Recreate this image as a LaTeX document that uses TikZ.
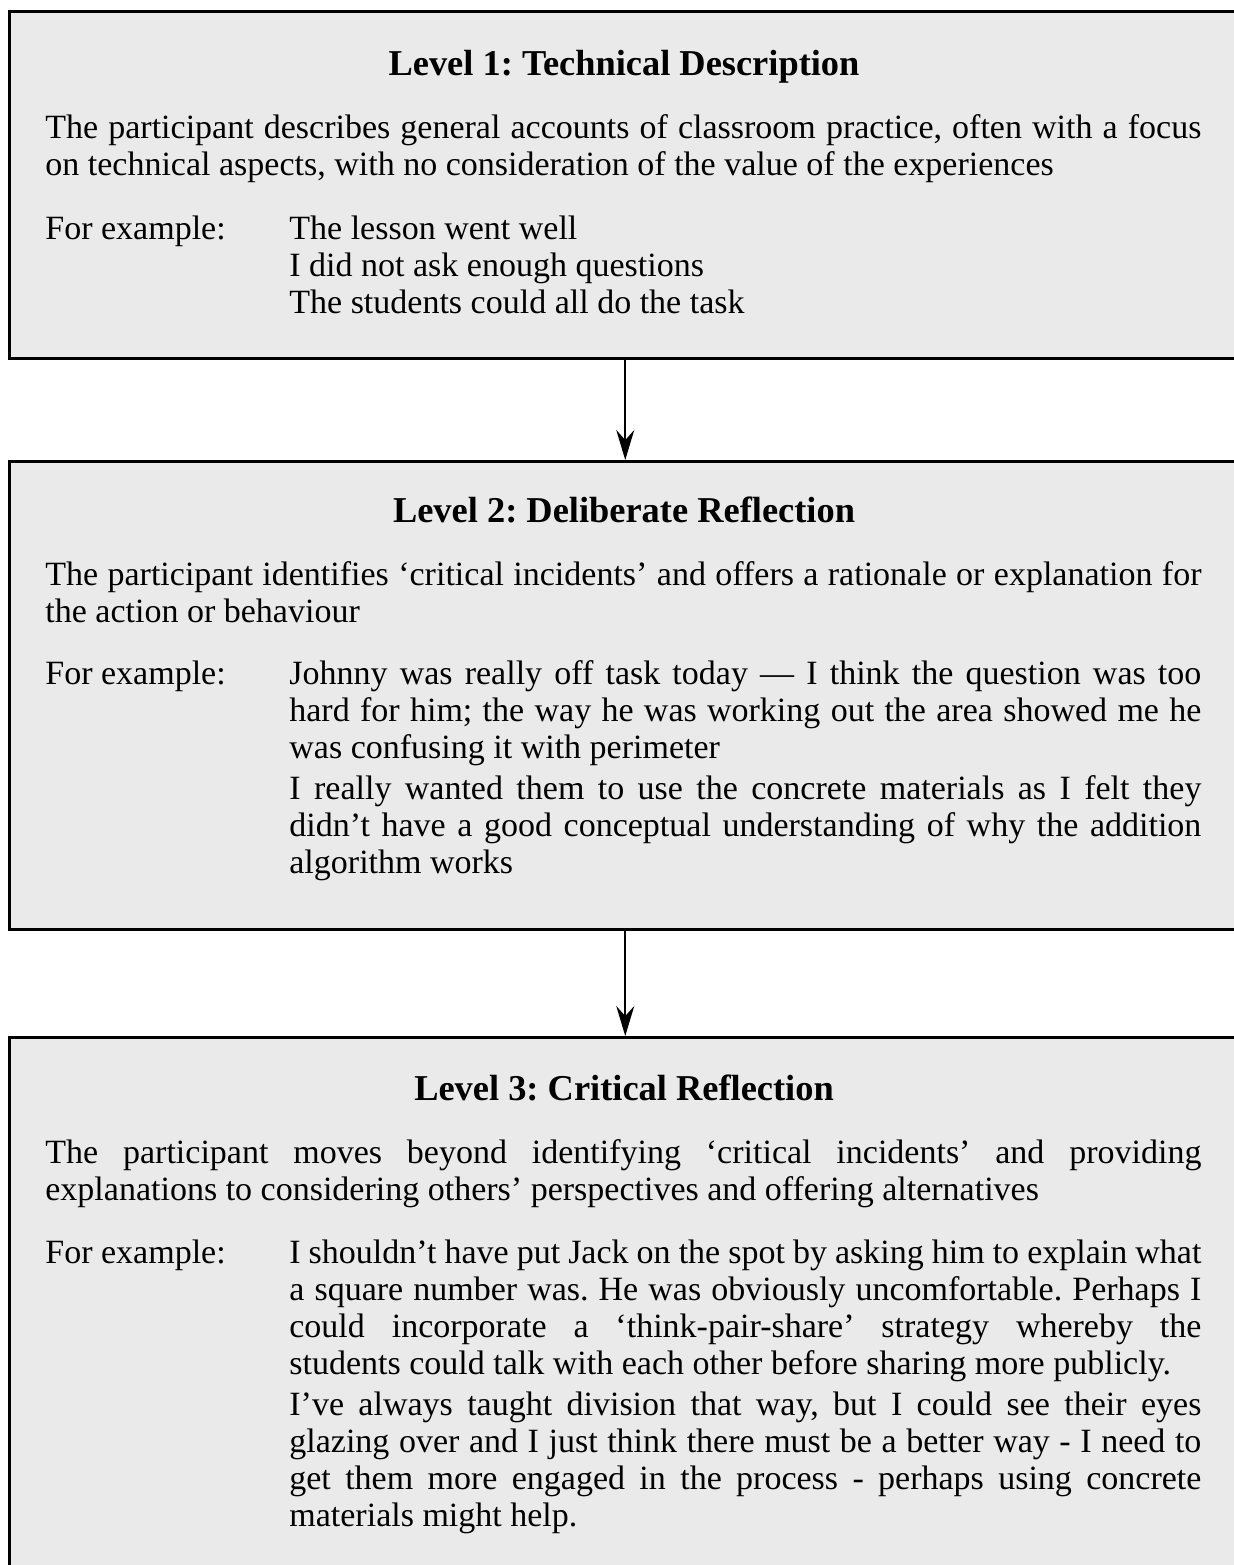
\documentclass[tikz,border=0pt]{standalone}
\usepackage{fontspec}
\setmainfont{Liberation Serif}
\newcommand{\mysz}{17}
\newcommand{\ttsz}{18.2}
\usetikzlibrary{arrows.meta}
\definecolor{boxfill}{RGB}{234,234,234}
\newcommand{\jl}[1]{\makebox[\linewidth][s]{#1}}
\begin{document}
\frenchspacing
\begin{tikzpicture}[x=0.5pt,y=-0.5pt,
  levelbox/.style={draw=black, line width=1.25pt, fill=boxfill, anchor=north west, inner sep=0pt, minimum width=616pt},
  titletxt/.style={anchor=base, inner sep=0pt, font=\fontsize{\ttsz}{20}\selectfont\bfseries},
  bodytxt/.style={anchor=base west, inner sep=0pt, align=left, font=\fontsize{\mysz}{18.5}\selectfont},
  arr/.style={line width=0.8pt, -{Stealth[length=15pt, width=9pt, inset=5pt]}}]
\useasboundingbox (0,0) rectangle (1234,1565);
\clip (0,0) rectangle (1234,1565);

% boxes
\node[levelbox, minimum height=173.5pt] (b1) at (8,10) {};
\node[levelbox, minimum height=234pt] (b2) at (8,460) {};
\node[levelbox, minimum height=285pt] (b3) at (8,1036) {};

% arrows
\draw[arr] (b1.south) -- (b2.north);
\draw[arr] (b2.south) -- (b3.north);

% Level 1
\node[titletxt] (t1) at (624,75) {Level 1: Technical Description};
\node[bodytxt] (p1) at (45,138) {\parbox[t]{578pt}{%
\jl{The participant describes general accounts of classroom practice, often with a focus}\\
\mbox{on technical aspects, with no consideration of the value of the experiences}}};
\node[bodytxt] (f1) at (45,239) {For example:};
\node[bodytxt] (e1) at (289,239) {\parbox[t]{456pt}{%
\mbox{The lesson went well}\\
\mbox{I did not ask enough questions}\\
\mbox{The students could all do the task}}};

% Level 2
\node[titletxt] (t2) at (624,522) {Level 2: Deliberate Reflection};
\node[bodytxt] (p2) at (45,585) {\parbox[t]{578pt}{%
\jl{The participant identifies `critical incidents' and offers a rationale or explanation for}\\
\mbox{the action or behaviour}}};
\node[bodytxt] (f2) at (45,684) {For example:};
\node[bodytxt] (e2) at (289,684) {\parbox[t]{456pt}{%
\jl{Johnny was really off task today --- I think the question was too}\\
\jl{hard for him; the way he was working out the area showed me he}\\
\mbox{was confusing it with perimeter}\\[2pt]
\jl{I really wanted them to use the concrete materials as I felt they}\\
\jl{didn't have a good conceptual understanding of why the addition}\\
\mbox{algorithm works}}};

% Level 3
\node[titletxt] (t3) at (624,1100) {Level 3: Critical Reflection};
\node[bodytxt] (p3) at (45,1163) {\parbox[t]{578pt}{%
\jl{The participant moves beyond identifying `critical incidents' and providing}\\
\mbox{explanations to considering others' perspectives and offering alternatives}}};
\node[bodytxt] (f3) at (45,1263) {For example:};
\node[bodytxt] (e3) at (289,1263) {\parbox[t]{456pt}{%
\jl{I shouldn't have put Jack on the spot by asking him to explain what}\\
\jl{a square number was. He was obviously uncomfortable. Perhaps I}\\
\jl{could incorporate a `think-pair-share' strategy whereby the}\\
\mbox{students could talk with each other before sharing more publicly.}\\[2pt]
\jl{I've always taught division that way, but I could see their eyes}\\
\jl{glazing over and I just think there must be a better way - I need to}\\
\jl{get them more engaged in the process - perhaps using concrete}\\
\mbox{materials might help.}}};
\end{tikzpicture}
\end{document}
